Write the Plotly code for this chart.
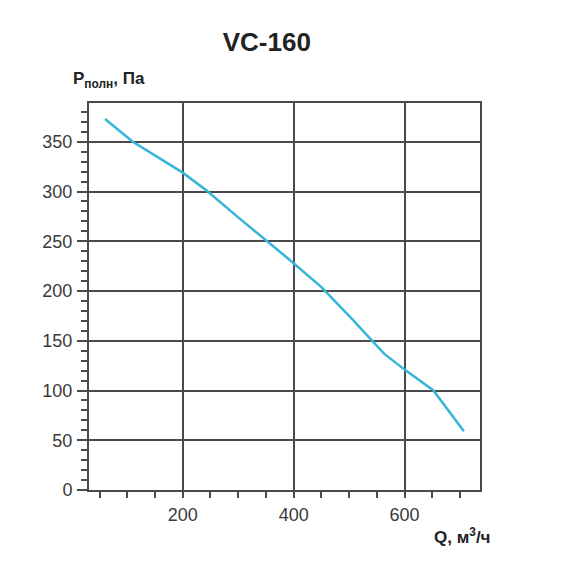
import plotly.graph_objects as go

# fan curve VC-160
q_flow = [60, 110, 200, 243, 300, 400, 450, 500, 563, 600, 652, 707]
p_total = [373, 350, 319, 301, 274, 228, 204, 175, 137, 121, 100, 59]

x_ticks = [200, 400, 600]
x_minor = [50, 100, 150, 250, 300, 350, 450, 500, 550, 650, 700]
y_ticks = [0, 50, 100, 150, 200, 250, 300, 350]

grid_col = "#4a4a4a"
txt_col = "#3a3a3a"
font_name = "Liberation Sans, Arial, sans-serif"

fig = go.Figure()
fig.add_trace(go.Scatter(x=q_flow, y=p_total, mode="lines",
                         line=dict(color="#35b5d8", width=2.5),
                         showlegend=False, hoverinfo="skip"))

fig.update_xaxes(range=[31, 736], tickvals=x_ticks,
                 ticks="outside", ticklen=6, tickwidth=1.5, tickcolor=grid_col,
                 showgrid=True, gridcolor=grid_col, gridwidth=1.5,
                 showline=True, linecolor=grid_col, linewidth=2, mirror=True,
                 zeroline=False, ticklabelstandoff=1,
                 tickfont=dict(size=18, color=txt_col, family=font_name),
                 minor=dict(tickvals=x_minor,
                            ticks="outside", ticklen=6, tickwidth=1.5, tickcolor=grid_col,
                            showgrid=False))
fig.update_yaxes(range=[0, 389], tickvals=y_ticks,
                 ticks="outside", ticklen=10, tickwidth=1.5, tickcolor=grid_col,
                 showgrid=True, gridcolor=grid_col, gridwidth=1.5,
                 showline=True, linecolor=grid_col, linewidth=2, mirror=True,
                 zeroline=False, ticklabelstandoff=1,
                 tickfont=dict(size=18, color=txt_col, family=font_name),
                 minor=dict(dtick=10, tick0=0, ticks="outside", ticklen=6, tickwidth=1.5,
                            tickcolor=grid_col, showgrid=False))

fig.update_layout(
    width=559, height=562,
    margin=dict(l=81, r=87, t=95, b=80),
    plot_bgcolor="white", paper_bgcolor="white",
    title=dict(text="<b>VC-160</b>", x=0.463, xanchor="center", y=0.94, yanchor="middle",
               font=dict(size=26, color="#222222", family=font_name)),
    annotations=[
        dict(text="<b>P<sub>полн</sub>, Па</b>", xref="paper", yref="paper",
             x=-0.046, y=1.06, xanchor="left", yanchor="middle", showarrow=False,
             font=dict(size=17, color="#222222", family=font_name)),
        dict(text="<b>Q, м<sup>3</sup>/ч</b>", xref="paper", yref="paper",
             x=0.877, y=-0.118, xanchor="left", yanchor="middle", showarrow=False,
             font=dict(size=17, color="#222222", family=font_name)),
    ],
)

fig.write_html("out.html")
